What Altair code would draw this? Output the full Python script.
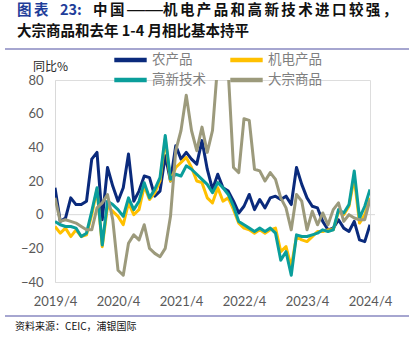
import altair as alt
import pandas as pd

months = [f"{2019 + (3 + k) // 12}/{(3 + k) % 12 + 1}" for k in range(61)]
tick_labels = ["2019/4", "2020/4", "2021/4", "2022/4", "2023/4", "2024/4"]
series_names = ["农产品", "机电产品", "高新技术", "大宗商品"]
colors = ["#0A2A7C", "#FFC000", "#0A9E9B", "#9C9A7C"]

agri = [16, -4, -2, 10, 6, 6, 8, 33, 37, -3,
        28, 17, 8, 16, 36, 8, 14, 23, 22, 11,
        14, 35, 20, 41, 33, 37, 33, 30, 44, 27,
        15, 24, 16, 14, 8, 1, 5, 12, 3, 9,
        4, 10, 11, 9, 11, 6, 28, 18, 10, 5,
        4, -4, -9, -8, -3, -8, -10, -4, -15, -16,
        -6]
mech = [-7, -11, -8, -13, -9, -13, -12, 0, 15, -19,
        5, 2, -1, -6, 7, 0, 3, 17, 9, 13,
        20, 45, 20, 28, 31, 34, 28, 20, 19, 10,
        7, 16, 8, 10, 3, -5, -8, -9, -11, -9,
        -11, -9, -8, -22, -19, -31, -13, -15, -16, -13,
        -10, -10, -9, -9, 2, 0, 5, 22, -5, 0,
        10]
tech = [-4, -6, -7, -7, -8, -13, -11, 2, 16, -18,
        8, 6, 3, -1, 10, 3, 8, 19, 10, 15,
        22, 47, 21, 24, 23, 29, 27, 24, 21, 18,
        13, 19, 16, 12, 5, -4, -6, -8, -10, -8,
        -10, -8, -11, -27, -22, -36, -12, -13, -13, -12,
        -11, -9, -10, -9, 3, 1, 6, 26, -2, 5,
        15]
bulk = [10, -4, -3, -4, -5, -7, -9, -9, 4, 7,
        12, -3, -33, -36, -17, -12, -15, -6, -20, -23,
        -25, -20, -1, 38, 50, 71, 50, 38, 52, 37,
        50, 90, 105, 85, 28, 25, 57, 56, 27, 26,
        20, 25, 21, 10, 4, -9, 12, 8, -9, 2,
        -6, 1, -6, 3, 7, -4, 0, -2, -3, -3,
        9]

rows = []
for name, vals in zip(series_names, [agri, mech, tech, bulk]):
    for m, v in zip(months, vals):
        rows.append({"month": m, "value": v, "series": name})
df = pd.DataFrame(rows)

W, H = 315, 202
OX, OY = 55, 80  # plot origin in page pixels

x = alt.X("month:O", sort=months,
          scale=alt.Scale(type="point", padding=0),
          axis=alt.Axis(values=tick_labels, labelAngle=0, domain=False, ticks=False,
                        grid=False, title=None, labelFont="Lato", labelFontSize=13,
                        labelColor="#595959", labelPadding=13))
y = alt.Y("value:Q", scale=alt.Scale(domain=[-40, 80], nice=False, zero=False),
          axis=alt.Axis(values=[-40, -20, 0, 20, 40, 60, 80], grid=False, ticks=False,
                        domain=True, domainColor="#D9D9D9", title=None,
                        labelFont="Lato", labelFontSize=13, labelColor="#595959",
                        labelPadding=12, labelOverlap=False, labelFlush=False))

lines = alt.Chart(df).mark_line(strokeWidth=3, clip=True, strokeJoin="round").encode(
    x=x, y=y,
    color=alt.Color("series:N", sort=series_names,
                    scale=alt.Scale(domain=series_names, range=colors),
                    legend=alt.Legend(orient="none", legendX=57, legendY=-30, columns=2,
                                      direction="horizontal", clipHeight=20,
                                      title=None, symbolType="stroke", symbolSize=1050,
                                      symbolStrokeWidth=4.5, labelFont="Noto Sans CJK SC",
                                      labelFontSize=13.5, labelColor="#7F7F7F",
                                      columnPadding=22, rowPadding=0, labelOffset=3)),
)

zero = alt.Chart(pd.DataFrame({"value": [0]})).mark_rule(color="#D9D9D9", strokeWidth=1).encode(
    y=y, x=alt.value(0), x2=alt.value(320))


def txt(s, px, py, size, color, weight="normal", font="Noto Sans CJK SC"):
    return alt.Chart(pd.DataFrame({"t": [s]})).mark_text(
        align="left", baseline="middle", font=font, fontSize=size,
        fontWeight=weight, color=color).encode(text="t:N", x=alt.value(px - OX), y=alt.value(py - OY))


def hline(py):
    return alt.Chart(pd.DataFrame({"a": [0]})).mark_rule(color="#A6A6D0", strokeWidth=2).encode(
        x=alt.value(5 - OX), x2=alt.value(409 - OX), y=alt.value(py - OY))


TS = 14.5
L1 = 11
texts = [
    txt("图", 17, L1, TS, "#1F3E9A", "bold"),
    txt("表", 34, L1, TS, "#1F3E9A", "bold"),
    txt("23:", 60, L1, TS, "#1F3E9A", "bold"),
    txt("中", 93, L1, TS, "#111111", "bold"),
    txt("国", 110, L1, TS, "#111111", "bold"),
    txt("——", 127, L1 - 1, 18, "#111111", "normal", "Liberation Sans"),
]
for k, ch in enumerate("机电产品和高新技术进口较强，"):
    texts.append(txt(ch, 163 + k * 16.9, L1, TS, "#111111", "bold"))
texts += [
    txt("大宗商品和去年 1-4 月相比基本持平", 17, 32, TS, "#111111", "bold"),
    txt("同比%", 33, 67, 12, "#262626"),
    txt("资料来源：CEIC，浦银国际", 15, 327, 10, "#111111"),
]

chart = alt.layer(zero, lines, *texts, hline(49), hline(316)).properties(
    width=W, height=H,
    padding={"left": OX, "top": OY, "right": 409 - OX - W, "bottom": 344 - OY - H},
    autosize=alt.AutoSizeParams(type="none"),
).configure_view(stroke=None).configure(background="white")

chart.save("out.html", embed_options={"renderer": "svg", "actions": False})
